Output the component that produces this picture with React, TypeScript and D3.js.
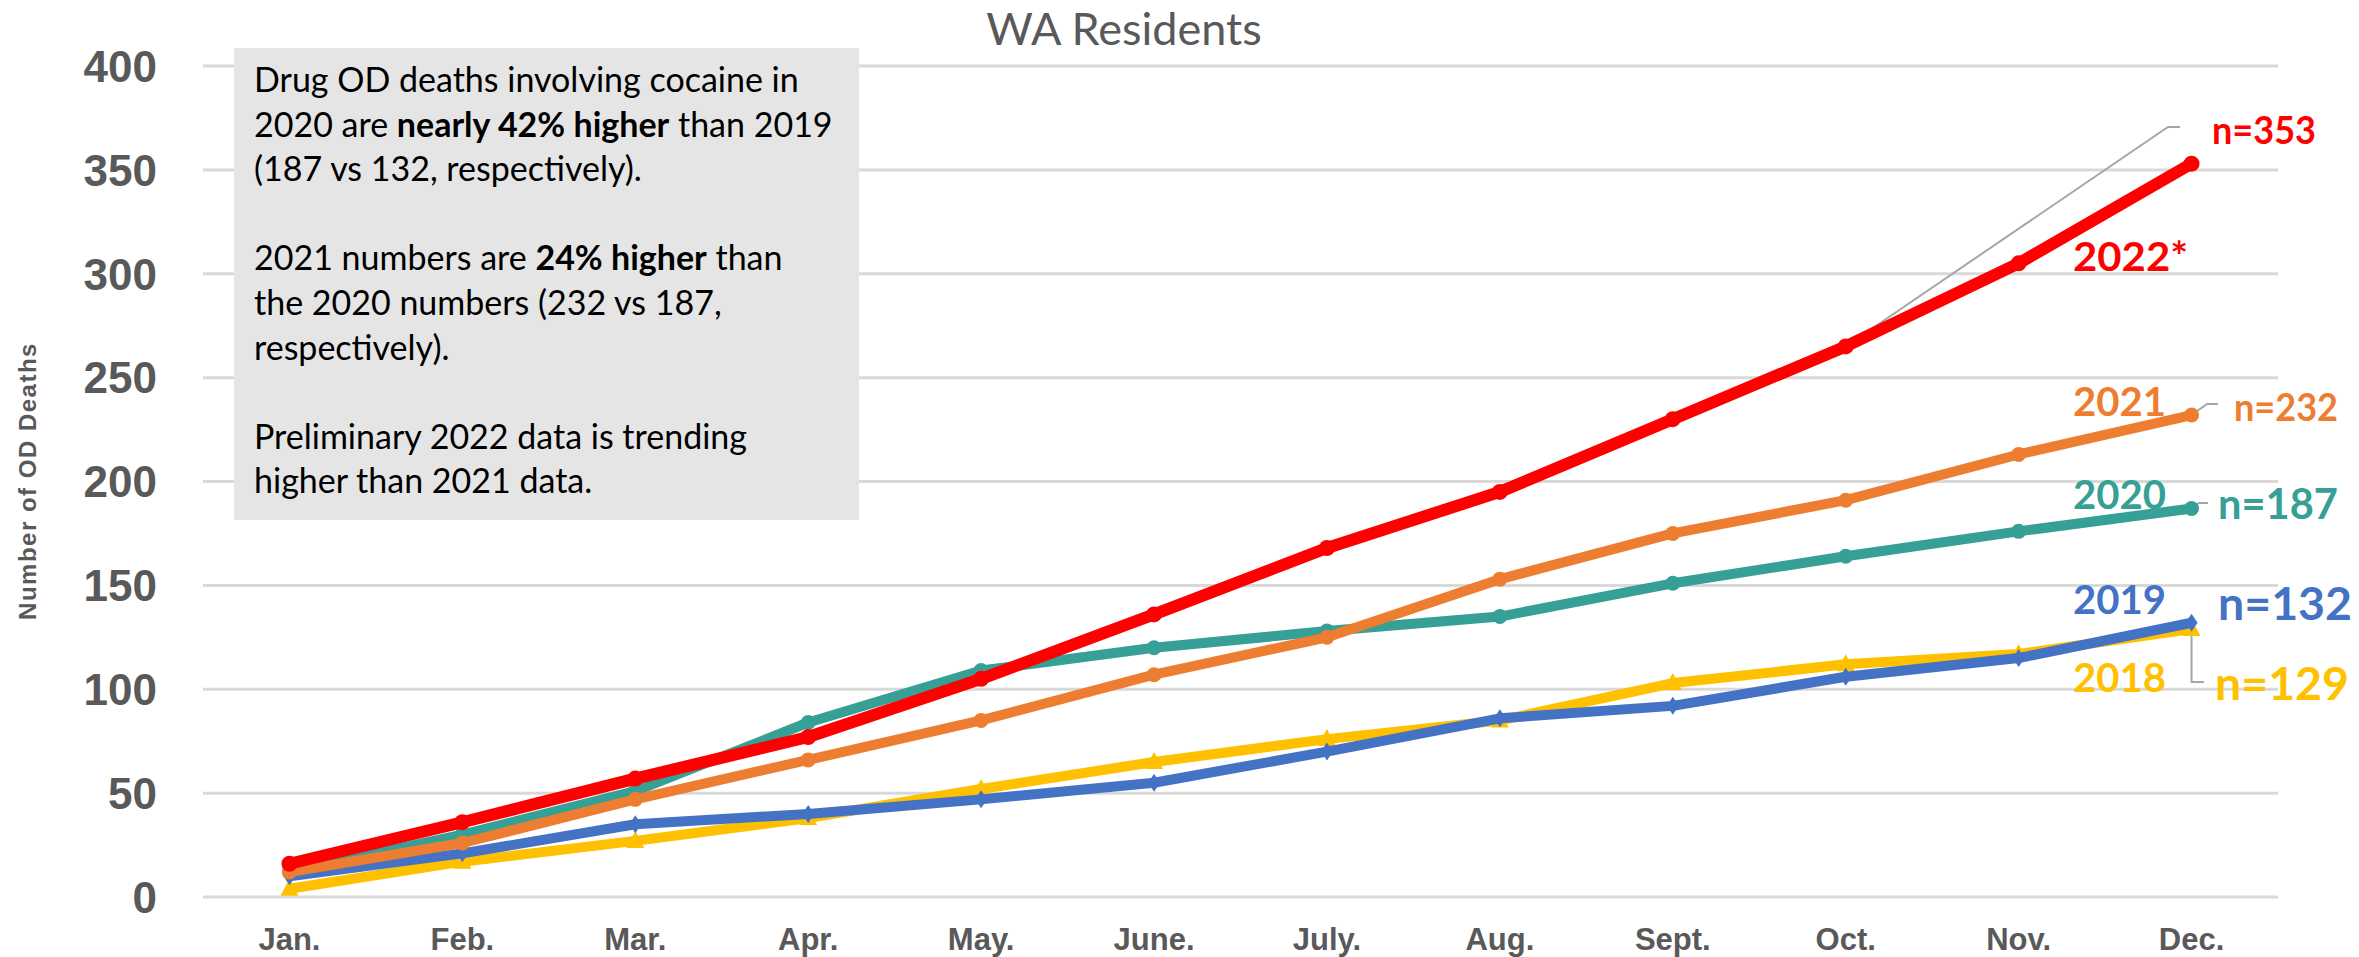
import React from "react";
import * as d3 from "d3";

const months = ["Jan.", "Feb.", "Mar.", "Apr.", "May.", "June.", "July.", "Aug.", "Sept.", "Oct.", "Nov.", "Dec."];
const yTicks = [0, 50, 100, 150, 200, 250, 300, 350, 400];

const y2018 = [4, 17, 27, 38, 52, 65, 76, 85, 103, 112, 117, 129];
const y2019 = [10, 21, 35, 40, 47, 55, 70, 86, 92, 106, 115, 132];
const y2020 = [12, 30, 51, 84, 109, 120, 128, 135, 151, 164, 176, 187];
const y2021 = [12, 26, 47, 66, 85, 107, 125, 153, 175, 191, 213, 232];
const y2022 = [16, 36, 57, 77, 105, 136, 168, 195, 230, 265, 305, 353];

const series = [
  { name: "2018", values: y2018, color: "#FFC000", marker: "triangle", width: 10 },
  { name: "2019", values: y2019, color: "#4472C4", marker: "diamond", width: 10 },
  { name: "2020", values: y2020, color: "#36A096", marker: "circle", width: 10 },
  { name: "2021", values: y2021, color: "#ED7D31", marker: "circle", width: 10 },
  { name: "2022", values: y2022, color: "#FF0000", marker: "circle", width: 12 },
];

const boxLines: { parts: [string, boolean][]; row: number }[] = [
  { parts: [["Drug OD deaths involving cocaine in", false]], row: 0 },
  { parts: [["2020 are ", false], ["nearly 42% higher", true], [" than 2019", false]], row: 1 },
  { parts: [["(187 vs 132, respectively).", false]], row: 2 },
  { parts: [["2021 numbers are ", false], ["24% higher", true], [" than", false]], row: 4 },
  { parts: [["the 2020 numbers (232 vs 187,", false]], row: 5 },
  { parts: [["respectively).", false]], row: 6 },
  { parts: [["Preliminary 2022 data is trending", false]], row: 8 },
  { parts: [["higher than 2021 data.", false]], row: 9 },
];

const W = 2359;
const H = 957;
const axisFont = "'Liberation Sans', Arial, sans-serif";
const bodyFont = "Lato, 'Open Sans', sans-serif";
const labelFont = "'Liberation Sans Narrow', Lato, sans-serif";
const grey = "#595959";

export default function App() {
  const x = d3.scalePoint<string>().domain(months).range([203, 2278]).padding(0.5);
  const y = d3.scaleLinear().domain([0, 400]).range([897, 66]);
  const line = d3
    .line<number>()
    .x((_, i) => x(months[i]) as number)
    .y((d) => y(d));

  const last = months.length - 1;
  const px = (i: number) => x(months[i]) as number;

  const marker = (kind: string, cx: number, cy: number, color: string, key: string, big: boolean) => {
    if (kind === "circle") return <circle key={key} cx={cx} cy={cy} r={big ? 8 : 7.5} fill={color} />;
    if (kind === "diamond")
      return <path key={key} d={`M${cx},${cy - 9}L${cx + 6},${cy}L${cx},${cy + 9}L${cx - 6},${cy}Z`} fill={color} />;
    return <path key={key} d={`M${cx},${cy - 10}L${cx + 9},${cy + 7}L${cx - 9},${cy + 7}Z`} fill={color} />;
  };

  // series-end labels: [text, color, x, baseline, length, size]
  const endLabels: [string, string, number, number, number, number][] = [
    ["n=353", "#FF0000", 2212, 144, 104, 38],
    ["2022*", "#FF0000", 2073, 271, 115, 40],
    ["2021", "#ED7D31", 2073, 416, 93, 40],
    ["n=232", "#ED7D31", 2234, 421, 104, 38],
    ["2020", "#36A096", 2073, 509, 93, 40],
    ["n=187", "#36A096", 2218, 519, 120, 42],
    ["2019", "#4472C4", 2073, 614, 93, 40],
    ["n=132", "#4472C4", 2218, 620, 134, 46],
    ["2018", "#FFC000", 2073, 692, 93, 40],
    ["n=129", "#FFC000", 2215, 700, 134, 46],
  ];

  const leaders = [
    `M${px(9)},${y(y2022[9])}L2168,127L2180,127`,
    `M${px(last)},${y(y2021[last])}L2207,404L2218,404`,
    `M${px(last)},${y(y2020[last])}L2199,503L2208,503`,
    `M${px(last)},${y(y2018[last])}L${px(last)},682L2204,682`,
  ];

  return (
    <svg width={W} height={H} style={{ position: "absolute", left: 0, top: 0, background: "#fff" }}>
      <text x={1124} y={45} textAnchor="middle" fontFamily={bodyFont} fontSize={45} fill={grey}>
        WA Residents
      </text>

      {yTicks.map((t) => (
        <g key={t}>
          <line x1={203} x2={2278} y1={y(t)} y2={y(t)} stroke="#D9D9D9" strokeWidth={3} />
          <text x={157} y={y(t) + 15.8} textAnchor="end" fontFamily={axisFont} fontWeight="bold" fontSize={44} fill={grey}>
            {t}
          </text>
        </g>
      ))}

      {months.map((m) => (
        <text key={m} x={x(m)} y={950} textAnchor="middle" fontFamily={axisFont} fontWeight="bold" fontSize={31} fill={grey}>
          {m}
        </text>
      ))}

      <text
        transform={`translate(36,481) rotate(-90)`}
        textAnchor="middle"
        fontFamily={axisFont}
        fontWeight="bold"
        fontSize={24}
        letterSpacing={1.5}
        fill={grey}
      >
        Number of OD Deaths
      </text>

      <rect x={234} y={48} width={625} height={472} fill="#E5E5E5" />
      {boxLines.map((l, i) => (
        <text key={i} x={254} y={92 + 44.6 * l.row} fontFamily={bodyFont} fontSize={34} fill="#000">
          {l.parts.map(([s, b], j) => (
            <tspan key={j} fontWeight={b ? "bold" : "normal"}>
              {s}
            </tspan>
          ))}
        </text>
      ))}

      {leaders.map((d, i) => (
        <path key={i} d={d} fill="none" stroke="#A6A6A6" strokeWidth={2} />
      ))}

      {series.map((s) => (
        <g key={s.name}>
          <path d={line(s.values) as string} fill="none" stroke={s.color} strokeWidth={s.width} strokeLinejoin="round" />
          {s.values.map((v, i) => marker(s.marker, px(i), y(v), s.color, `${s.name}-${i}`, s.name === "2022"))}
        </g>
      ))}

      {endLabels.map(([t, c, lx, ly, len, fs]) => (
        <text
          key={t}
          x={lx}
          y={ly}
          fontFamily={labelFont}
          fontWeight="bold"
          fontSize={fs}
          fill={c}
          textLength={len}
          lengthAdjust="spacingAndGlyphs"
        >
          {t}
        </text>
      ))}
    </svg>
  );
}
